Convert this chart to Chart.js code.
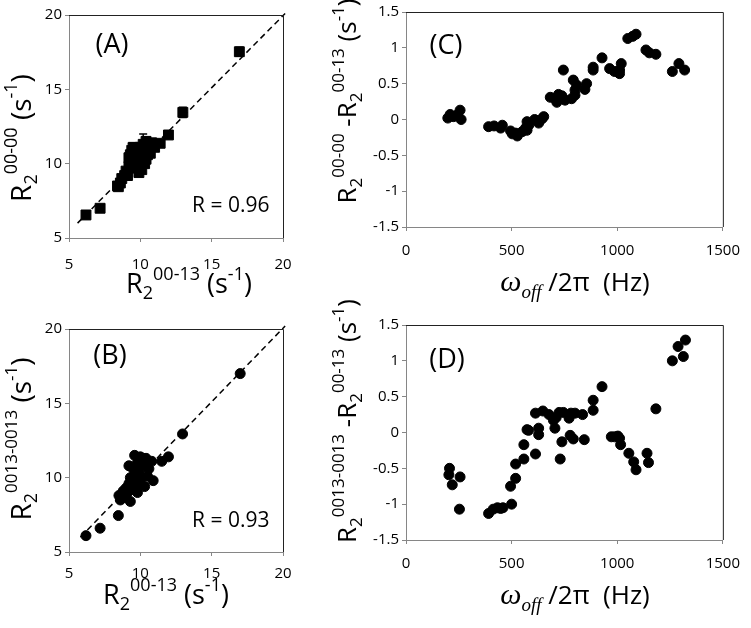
<!DOCTYPE html>
<html>
<head>
<meta charset="utf-8">
<script src="https://cdn.jsdelivr.net/npm/chart.js@4.4.1/dist/chart.umd.min.js"></script>
<style>
  body { margin: 0; background: #fff; }
  #wrap { position: relative; width: 751px; height: 628px; }
  canvas { position: absolute; left: 0; top: 0; }
</style>
</head>
<body>
<div id="wrap">
  <canvas id="cA" width="751" height="628"></canvas>
  <canvas id="cB" width="751" height="628"></canvas>
  <canvas id="cC" width="751" height="628"></canvas>
  <canvas id="cD" width="751" height="628"></canvas>
</div>
<script>
// ---- data ----
// (A) R2 00-00 vs R2 00-13
const aX = [6.19, 7.18, 8.46, 11.39, 11.97, 12.98, 16.94,
  8.4, 8.6, 8.7, 8.9, 9.0, 9.1, 9.2, 9.3, 9.3, 9.4, 9.4, 9.5, 9.5, 9.6, 9.6, 9.7, 9.7, 9.8,
  9.8, 9.9, 10.0, 10.0, 10.1, 10.1, 10.2, 10.3, 10.3, 10.4, 10.5, 10.6, 10.7, 10.8, 11.0, 9.2, 9.9, 10.4];
const aY = [6.55, 7.0, 8.45, 11.37, 11.93, 13.45, 17.53,
  8.5, 8.7, 9.0, 9.2, 9.5, 9.2, 9.8, 10.1, 10.6, 10.9, 9.8, 10.4, 11.1, 10.0, 10.7, 9.7, 11.0, 10.2,
  10.8, 9.9, 10.5, 11.1, 9.6, 10.3, 11.3, 10.0, 10.8, 10.3, 10.6, 11.2, 10.7, 11.4, 11.1, 10.4, 9.4, 11.5];
const aErr = [0.25, 0.2, 0.15, 0.2, 0.2, 0.35, 0.3,
  0.15, 0.15, 0.2, 0.2, 0.2, 0.15, 0.2, 0.2, 0.3, 0.45, 0.2, 0.2, 0.3, 0.2, 0.3, 0.2, 0.3, 0.2,
  0.3, 0.2, 0.2, 0.3, 0.2, 0.2, 0.7, 0.2, 0.3, 0.2, 0.2, 0.3, 0.2, 0.3, 0.2, 0.2, 0.2, 0.3];

// (B) R2 0013-0013 vs R2 00-13
const bX = [6.19, 7.18, 8.46, 11.5, 11.97, 12.96, 17.0,
  8.5, 8.6, 8.8, 8.9, 9.0, 9.1, 9.2, 9.3, 9.3, 9.4, 9.5, 9.5, 9.6, 9.7, 9.8, 9.8, 9.9, 10.0,
  10.0, 10.1, 10.2, 10.3, 10.4, 10.5, 10.6, 10.8, 10.9, 9.2, 9.6, 10.2];
const bY = [6.1, 6.6, 7.45, 11.1, 11.4, 12.94, 17.0,
  8.8, 8.5, 9.1, 8.7, 9.3, 9.0, 9.6, 8.4, 10.0, 9.2, 10.6, 9.5, 10.2, 9.8, 11.0, 9.0, 10.4, 11.4,
  9.6, 10.0, 10.8, 9.4, 11.3, 10.1, 10.6, 11.1, 9.8, 10.8, 11.5, 11.3];

// (C) R2 00-00 - R2 00-13 vs offset (Hz)
const cX = [198, 209, 225, 240, 256, 261, 391, 417, 448, 456, 495, 503, 519, 527,
  550, 566, 573, 573, 581, 609, 628, 644, 652, 683, 706, 714, 722, 738, 745, 753,
  784, 792, 800, 800, 808, 847, 855, 886, 886, 928, 964, 987, 1003, 1011, 1011, 1019,
  1050, 1073, 1089, 1136, 1152, 1183, 1261, 1292, 1319];
const cY = [0.02, 0.07, 0.04, 0.06, 0.13, 0.0, -0.10, -0.09, -0.12, -0.08, -0.16, -0.20, -0.19, -0.23,
  -0.17, -0.12, -0.15, -0.03, -0.08, 0.0, -0.05, 0.01, 0.04, 0.31, 0.29, 0.24, 0.35, 0.33, 0.69, 0.27,
  0.29, 0.55, 0.34, 0.41, 0.48, 0.42, 0.50, 0.73, 0.69, 0.86, 0.71, 0.67, 0.66, 0.64, 0.69, 0.78,
  1.13, 1.16, 1.19, 0.97, 0.93, 0.91, 0.67, 0.78, 0.69];

// (D) R2 0013-0013 - R2 00-13 vs offset (Hz)
const dX = [206, 203, 219, 256, 253, 391, 413, 433, 448, 459, 500, 495, 519, 519, 558, 558, 573, 580,
  613, 613, 628, 628, 648, 677, 698, 705, 711, 725, 730, 738, 745, 772, 777, 781, 792, 800, 836, 844,
  886, 886, 928, 972, 987, 1003, 1011, 1016, 1055, 1078, 1089, 1141, 1148, 1183, 1261, 1288, 1313, 1323];
const dY = [-0.50, -0.59, -0.73, -0.62, -1.07, -1.13, -1.07, -1.05, -1.06, -1.05, -1.00, -0.75, -0.64, -0.44, -0.17, -0.37, 0.04, 0.03,
  -0.30, 0.27, 0.06, -0.03, 0.30, 0.25, 0.17, 0.06, 0.21, 0.28, -0.37, -0.13, 0.28, 0.20, -0.04, 0.27, -0.09, 0.27, 0.25, -0.10,
  0.45, 0.31, 0.64, -0.06, -0.06, -0.05, -0.08, -0.17, -0.29, -0.41, -0.52, -0.29, -0.42, 0.33, 1.00, 1.20, 1.06, 1.29];

const scatterTicks = [5, 10, 15, 20];
const offTicksX = [0, 500, 1000, 1500];
const diffTicksY = [-1.5, -1, -0.5, 0, 0.5, 1, 1.5];
const diagLine = [{ x: 5.6, y: 6.0 }, { x: 20.15, y: 20.1 }];
const diagLineB = [{ x: 5.8, y: 6.0 }, { x: 20.15, y: 20.2 }];

const SANS = "'Open Sans', sans-serif";

const pts = (xs, ys) => xs.map((x, i) => ({ x: x, y: ys[i] }));

// draws frame, error bars and rich-text labels
const decor = {
  id: 'decor',
  afterDatasetsDraw(chart) {
    const ctx = chart.ctx;
    const xs = chart.scales.x, ys = chart.scales.y;
    chart.data.datasets.forEach(ds => {
      if (!ds.errors) return;
      ctx.save();
      ctx.strokeStyle = '#000';
      ctx.lineWidth = 1.5;
      ds.data.forEach((p, i) => {
        const px = xs.getPixelForValue(p.x);
        const t = ys.getPixelForValue(p.y + ds.errors[i]);
        const b = ys.getPixelForValue(p.y - ds.errors[i]);
        ctx.beginPath();
        ctx.moveTo(px, t); ctx.lineTo(px, b);
        ctx.moveTo(px - 4, t); ctx.lineTo(px + 4, t);
        ctx.moveTo(px - 4, b); ctx.lineTo(px + 4, b);
        ctx.stroke();
      });
      ctx.restore();
    });
  },
  afterDraw(chart, args, opts) {
    const ctx = chart.ctx;
    const a = chart.chartArea;
    ctx.save();
    ctx.strokeStyle = '#222';
    ctx.lineWidth = 1;
    ctx.beginPath();
    ctx.moveTo(a.left, a.top + 0.5); ctx.lineTo(a.right + 0.5, a.top + 0.5);
    ctx.lineTo(a.right + 0.5, a.bottom);
    ctx.stroke();
    ctx.restore();
    (opts.items || []).forEach(it => {
      ctx.save();
      ctx.fillStyle = '#000';
      ctx.textBaseline = 'alphabetic';
      ctx.translate(it.x, it.y);
      if (it.rot) ctx.rotate(-Math.PI / 2);
      const fontOf = p => (p[3] ? p[3] : 'normal') + ' ' + p[1] + 'px ' + (p[3] ? "'Liberation Serif', serif" : SANS);
      let total = 0;
      it.parts.forEach(p => { ctx.font = fontOf(p); total += ctx.measureText(p[0]).width; });
      let cur = it.align === 'left' ? 0 : -total / 2;
      it.parts.forEach(p => {
        ctx.font = fontOf(p);
        ctx.fillText(p[0], cur, p[2] || 0);
        cur += ctx.measureText(p[0]).width;
      });
      ctx.restore();
    });
  }
};

function axis(min, max, ticks, extra) {
  return Object.assign({
    type: 'linear',
    min: min,
    max: max,
    afterBuildTicks: s => { s.ticks = ticks.map(v => ({ value: v })); },
    grid: { display: true, drawOnChartArea: false, drawTicks: true, tickLength: 4, color: '#868686' },
    border: { display: true, color: '#868686', width: 1 },
    ticks: { color: '#000', font: { family: SANS, size: 15 }, maxRotation: 0, callback: v => String(v) }
  }, extra);
}

function panel(id, datasets, pad, xAx, yAx, items) {
  return new Chart(document.getElementById(id), {
    type: 'scatter',
    data: { datasets: datasets },
    options: {
      responsive: false,
      animation: false,
      devicePixelRatio: 1,
      layout: { padding: pad },
      plugins: { legend: { display: false }, tooltip: { enabled: false }, decor: { items: items } },
      scales: { x: xAx, y: yAx }
    },
    plugins: [decor]
  });
}

const dotStyle = { pointRadius: 5, pointBackgroundColor: '#000', pointBorderColor: '#000', pointBorderWidth: 1 };
const xTitleR = sup => [['R', 27, 0], ['2', 18, 6], [sup, 18, -13], [' (s', 27, 0], ['-1', 18, -13], [')', 27, 0]];

// ---- (A) ----
panel('cA', [
  { type: 'line', data: diagLine, borderColor: '#000', borderWidth: 1.5, borderDash: [6, 4], pointRadius: 0, clip: false },
  Object.assign({}, dotStyle, { data: pts(aX, aY), errors: aErr, pointStyle: 'rect', pointRadius: 7 })
], { left: 29, right: 468, top: 15, bottom: 350 },
  axis(5, 20, scatterTicks, { afterFit: s => { s.height = 40; }, ticks: { color: '#000', font: { family: SANS, size: 15 }, padding: 14, callback: v => String(v) } }),
  axis(5, 20, scatterTicks, { afterFit: s => { s.width = 40; } }),
  [
    { x: 112, y: 53, parts: [['(A)', 27, 0]] },
    { x: 192, y: 212, align: 'left', parts: [['R = 0.96', 21, 0]] },
    { x: 189, y: 293, parts: xTitleR('00-13') },
    { x: 31, y: 138, rot: true, parts: [['R', 28, 0], ['2', 18, 6], ['00-00', 18, -14], [' (s', 28, 0], ['-1', 18, -14], [')', 28, 0]] }
  ]);

// ---- (B) ----
panel('cB', [
  { type: 'line', data: diagLineB, borderColor: '#000', borderWidth: 1.5, borderDash: [6, 4], pointRadius: 0, clip: false },
  Object.assign({ data: pts(bX, bY), pointStyle: 'circle' }, dotStyle)
], { left: 29, right: 468, top: 329, bottom: 36 },
  axis(5, 20, scatterTicks, { afterFit: s => { s.height = 40; }, ticks: { color: '#000', font: { family: SANS, size: 15 }, padding: 9, callback: v => String(v) } }),
  axis(5, 20, scatterTicks, { afterFit: s => { s.width = 40; } }),
  [
    { x: 110, y: 364, parts: [['(B)', 27, 0]] },
    { x: 192, y: 527, align: 'left', parts: [['R = 0.93', 21, 0]] },
    { x: 166, y: 604, parts: xTitleR('00-13') },
    { x: 31, y: 439, rot: true, parts: [['R', 28, 0], ['2', 18, 6], ['0013-0013', 17, -14], [' (s', 28, 0], ['-1', 17, -14], [')', 28, 0]] }
  ]);

// ---- (C) ----
panel('cC', [
  Object.assign({ data: pts(cX, cY), pointStyle: 'circle' }, dotStyle)
], { left: 366, right: 25, top: 12, bottom: 361 },
  axis(0, 1500, offTicksX, { afterFit: s => { s.height = 40; }, ticks: { color: '#000', font: { family: SANS, size: 15 }, padding: 11, callback: v => String(v) } }),
  axis(-1.5, 1.5, diffTicksY, { afterFit: s => { s.width = 40; } }),
  [
    { x: 446, y: 54, parts: [['(C)', 27, 0]] },
    { x: 575, y: 291, parts: [['ω', 30, 0, 'italic'], ['off', 19, 7, 'italic'], [' /2π  (Hz)', 26, 0]] },
    { x: 356, y: 101, rot: true, parts: [['R', 26, 0], ['2', 17, 6], ['00-00', 17, -12], [' -R', 26, 0], ['2', 17, 6], ['00-13', 17, -12], [' (s', 26, 0], ['-1', 17, -12], [')', 26, 0]] }
  ]);

// ---- (D) ----
panel('cD', [
  Object.assign({ data: pts(dX, dY), pointStyle: 'circle' }, dotStyle)
], { left: 366, right: 25, top: 325, bottom: 48 },
  axis(0, 1500, offTicksX, { afterFit: s => { s.height = 40; }, ticks: { color: '#000', font: { family: SANS, size: 15 }, padding: 11, callback: v => String(v) } }),
  axis(-1.5, 1.5, diffTicksY, { afterFit: s => { s.width = 40; } }),
  [
    { x: 447, y: 368, parts: [['(D)', 27, 0]] },
    { x: 575, y: 604, parts: [['ω', 30, 0, 'italic'], ['off', 19, 7, 'italic'], [' /2π  (Hz)', 26, 0]] },
    { x: 356, y: 421, rot: true, parts: [['R', 26, 0], ['2', 17, 6], ['0013-0013', 17, -12], [' -R', 26, 0], ['2', 17, 6], ['00-13', 17, -12], [' (s', 26, 0], ['-1', 17, -12], [')', 26, 0]] }
  ]);
</script>
</body>
</html>
